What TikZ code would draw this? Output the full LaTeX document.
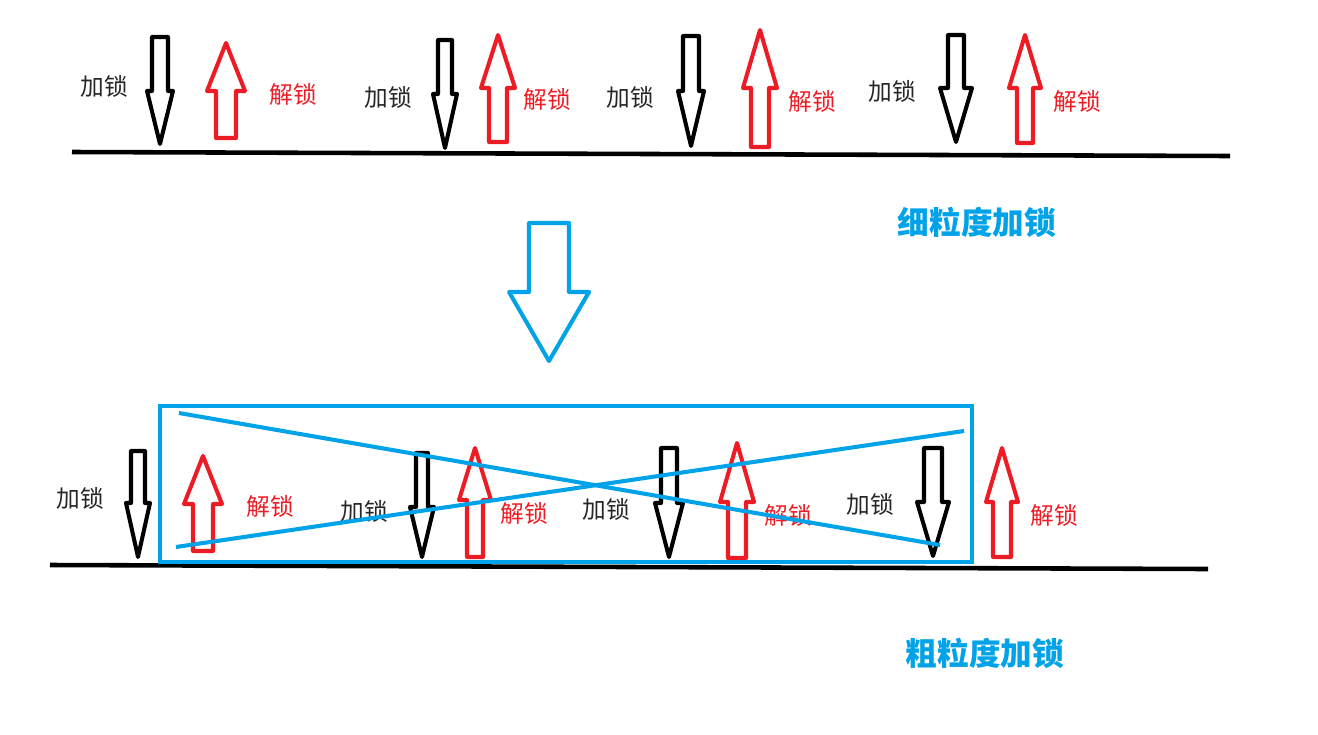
\documentclass[tikz,border=0pt]{standalone}
\usepackage{fontspec}
\setmainfont{Noto Sans CJK SC}
\usepackage{tikz}
\definecolor{lockred}{HTML}{ED1C24}
\definecolor{paintblue}{HTML}{00A2E8}
\tikzset{
    lockline/.style={line width=2.3pt, black},
    unlockline/.style={line width=2.3pt, lockred},
    blueline/.style={line width=2.3pt, paintblue},
    groundline/.style={line width=2.6pt, black},
    locklabel/.style={font=\fontsize{13.5pt}{14pt}\selectfont, text=black!85},
    unlocklabel/.style={font=\fontsize{13.5pt}{14pt}\selectfont, text=lockred},
    title/.style={font=\bfseries\fontsize{18pt}{20pt}\selectfont, text=paintblue}
}
% #1 style, #2 centre x, #3 shaft end, #4 head base, #5 tip, #6 half shaft, #7 half head
\newcommand{\lockarrow}[7]{%
    \draw[#1, line join=round] (#2-#6,#3) -- (#2+#6,#3) -- (#2+#6,#4) -- (#2+#7,#4)
        -- (#2,#5) -- (#2-#7,#4) -- (#2-#6,#4) -- cycle;}

\begin{document}
\begin{tikzpicture}[x=0.02cm, y=-0.02cm]
    \useasboundingbox (0,0) rectangle (1318,734);

    % Fine-grained: top row
    \coordinate (fineL) at (72,152);
    \coordinate (fineR) at (1230,156);
    \draw[groundline] (fineL) -- (fineR);

    \lockarrow{lockline}{160}{37}{91}{144}{8}{13}
    \lockarrow{unlockline}{226}{138}{91}{43}{10}{19}
    \lockarrow{lockline}{445}{40}{94}{148}{7}{12}
    \lockarrow{unlockline}{498}{142}{88}{35}{9}{17}
    \lockarrow{lockline}{691}{36}{91}{146}{8}{13}
    \lockarrow{unlockline}{760}{147}{88}{30}{9}{17}
    \lockarrow{lockline}{956}{35}{88}{142}{8}{16}
    \lockarrow{unlockline}{1025}{143}{88}{35}{8}{16}

    \node[locklabel]   (fl1) at (104,86)  {加锁};
    \node[unlocklabel] (fu1) at (293,94)  {解锁};
    \node[locklabel]   (fl2) at (388,97)  {加锁};
    \node[unlocklabel] (fu2) at (547,99)  {解锁};
    \node[locklabel]   (fl3) at (630,97)  {加锁};
    \node[unlocklabel] (fu3) at (812,101) {解锁};
    \node[locklabel]   (fl4) at (892,91)  {加锁};
    \node[unlocklabel] (fu4) at (1077,101) {解锁};

    \node[title] (finetitle) at (977,222) {细粒度加锁};

    % Big arrow between the rows
    \lockarrow{blueline}{549}{223}{292}{361}{20}{40}

    % Coarse-grained: bottom row
    \coordinate (coarseL) at (50,565);
    \coordinate (coarseR) at (1208,569);
    \draw[groundline] (coarseL) -- (coarseR);

    \lockarrow{lockline}{138}{451}{503}{557}{7}{12}
    \lockarrow{unlockline}{203}{551}{504}{456}{10}{19}
    \lockarrow{lockline}{422}{453}{507}{557}{6}{12}
    \lockarrow{unlockline}{475}{557}{500}{448}{8}{16}
    \lockarrow{lockline}{669}{448}{503}{557}{8}{14}
    \lockarrow{unlockline}{737}{558}{502}{443}{9}{17}
    \lockarrow{lockline}{933}{448}{502}{556}{9}{16}
    \lockarrow{unlockline}{1002}{557}{502}{448}{9}{16}

    \node[locklabel]   (cl1) at (80,498)  {加锁};
    \node[unlocklabel] (cu1) at (270,506) {解锁};
    \node[locklabel]   (cl2) at (364,511) {加锁};
    \node[unlocklabel] (cu2) at (524,513) {解锁};
    \node[locklabel]   (cl3) at (606,509) {加锁};
    \node[unlocklabel] (cu3) at (788,515) {解锁};
    \node[locklabel]   (cl4) at (870,504) {加锁};
    \node[unlocklabel] (cu4) at (1054,515) {解锁};

    % Box with the cross over it
    \draw[blueline] (160,406) rectangle (972,562);
    \coordinate (crossA) at (179,413);
    \coordinate (crossB) at (940,545);
    \coordinate (crossC) at (176,547);
    \coordinate (crossD) at (964,431);
    \draw[blueline] (crossA) -- (crossB);
    \draw[blueline] (crossC) -- (crossD);

    \node[title] (coarsetitle) at (985,653) {粗粒度加锁};
\end{tikzpicture}
\end{document}
